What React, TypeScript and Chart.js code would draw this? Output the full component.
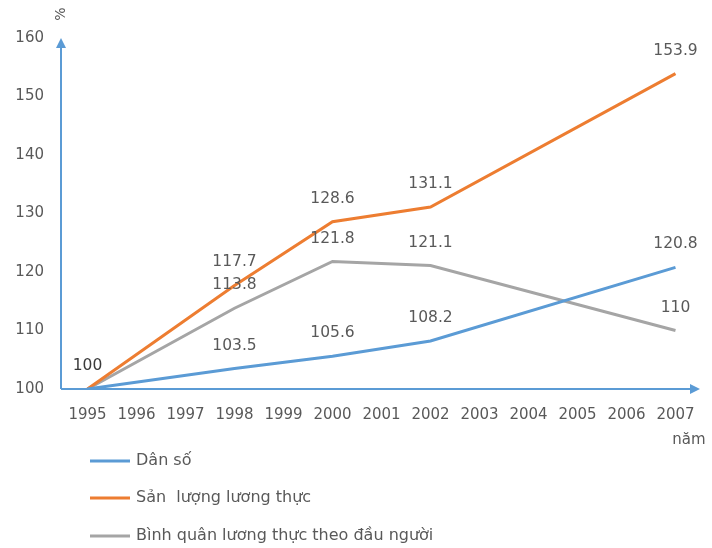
import React, { useEffect, useRef } from "react";
import { Chart, registerables } from "chart.js";

Chart.register(...registerables);

const years = ["1995", "1996", "1997", "1998", "1999", "2000", "2001", "2002", "2003", "2004", "2005", "2006", "2007"];
const danSo = [100, null, null, 103.5, null, 105.6, null, 108.2, null, null, null, null, 120.8];
const sanLuong = [100, null, null, 117.7, null, 128.6, null, 131.1, null, null, null, null, 153.9];
const binhQuan = [100, null, null, 113.8, null, 121.8, null, 121.1, null, null, null, null, 110];
const seriesNames = ["Dân số", "Sản  lượng lương thực", "Bình quân lương thực theo đầu người"];
const seriesColors = ["#5B9BD5", "#ED7D31", "#A5A5A5"];
const yTicks = [100, 110, 120, 130, 140, 150, 160];

const FONT = "'DejaVu Sans', sans-serif";
const TEXT = "#595959";
const AXIS = "#5B9BD5";

const decor = {
  id: "decor",
  afterDatasetsDraw(chart: any) {
    const ctx = chart.ctx;
    const a = chart.chartArea;
    ctx.save();
    // data labels
    ctx.font = `15.5px ${FONT}`;
    ctx.textAlign = "center";
    ctx.textBaseline = "middle";
    chart.data.datasets.forEach((ds: any, di: number) => {
      const meta = chart.getDatasetMeta(di);
      ds.data.forEach((v: any, i: number) => {
        if (v === null) return;
        if (i === 0 && di !== 0) return;
        const el = meta.data[i];
        ctx.fillStyle = i === 0 ? "#3a3a3a" : TEXT;
        ctx.fillText(String(v), el.x, el.y - 23);
      });
    });
    // axes with arrows
    const x0 = a.left - 2;
    const y0 = a.bottom;
    ctx.strokeStyle = AXIS;
    ctx.fillStyle = AXIS;
    ctx.lineWidth = 2;
    ctx.beginPath();
    ctx.moveTo(x0, y0);
    ctx.lineTo(x0, a.top + 8);
    ctx.moveTo(x0, y0);
    ctx.lineTo(a.right - 8, y0);
    ctx.stroke();
    ctx.beginPath();
    ctx.moveTo(x0, a.top);
    ctx.lineTo(x0 - 5, a.top + 10);
    ctx.lineTo(x0 + 5, a.top + 10);
    ctx.closePath();
    ctx.fill();
    ctx.beginPath();
    ctx.moveTo(a.right, y0);
    ctx.lineTo(a.right - 10, y0 - 5);
    ctx.lineTo(a.right - 10, y0 + 5);
    ctx.closePath();
    ctx.fill();
    // axis titles
    ctx.fillStyle = TEXT;
    ctx.font = `14px ${FONT}`;
    ctx.save();
    ctx.translate(x0, 14);
    ctx.rotate(-Math.PI / 2);
    ctx.fillText("%", 0, 0);
    ctx.restore();
    ctx.font = `15px ${FONT}`;
    ctx.fillText("năm", 689, 440);
    // legend
    const ly = [461, 498, 536];
    ctx.textAlign = "left";
    ctx.font = `16px ${FONT}`;
    seriesNames.forEach((n, i) => {
      ctx.strokeStyle = seriesColors[i];
      ctx.lineWidth = 3;
      ctx.beginPath();
      ctx.moveTo(90, ly[i]);
      ctx.lineTo(130, ly[i]);
      ctx.stroke();
      ctx.fillStyle = TEXT;
      ctx.fillText(n, 136, ly[i]);
    });
    ctx.restore();
  },
};

export default function App() {
  const ref = useRef<HTMLCanvasElement>(null);
  useEffect(() => {
    const chart = new Chart(ref.current!, {
      type: "line",
      data: {
        labels: years,
        datasets: [danSo, sanLuong, binhQuan].map((d, i) => ({
          label: seriesNames[i],
          data: d,
          borderColor: seriesColors[i],
          backgroundColor: seriesColors[i],
          borderWidth: 3,
          pointRadius: 0,
          spanGaps: true,
          tension: 0,
        })),
      },
      options: {
        animation: false,
        responsive: false,
        layout: { padding: { left: 0, right: 11, top: 38, bottom: 0 } },
        plugins: { legend: { display: false }, tooltip: { enabled: false } },
        scales: {
          x: {
            offset: true,
            grid: { display: false, drawTicks: false },
            border: { display: false },
            ticks: { color: TEXT, font: { family: FONT, size: 15 }, autoSkip: false, maxRotation: 0, padding: 17 },
            afterFit(s: any) { s.height = 548 - 389; },
          },
          y: {
            min: 100,
            max: 160,
            afterBuildTicks(s: any) { s.ticks = yTicks.map((v) => ({ value: v })); },
            grid: { display: false, drawTicks: false },
            border: { display: false },
            ticks: { color: TEXT, font: { family: FONT, size: 15 }, padding: 19 },
            afterFit(s: any) { s.width = 63; },
          },
        },
      },
      plugins: [decor],
    });
    return () => chart.destroy();
  }, []);
  return (
    <div style={{ position: "fixed", left: 0, top: 0, width: 712, height: 548, background: "#fff" }}>
      <canvas ref={ref} width={712} height={548} />
    </div>
  );
}
